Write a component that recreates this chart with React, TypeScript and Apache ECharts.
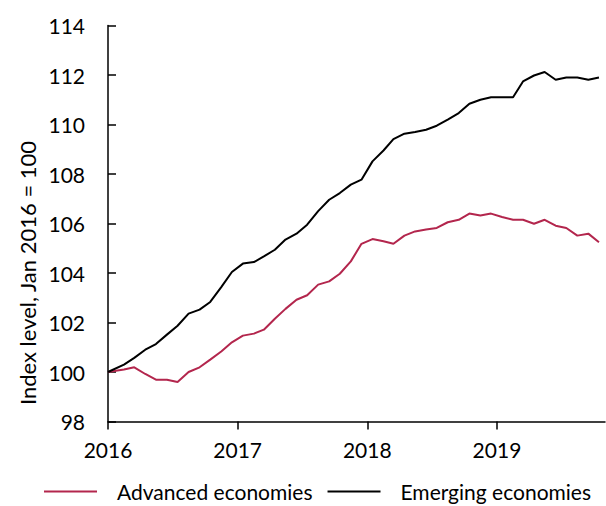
import React, { useEffect, useRef } from "react";
import * as echarts from "echarts";

// Monthly observations, Jan 2016 – Oct 2019
const months: string[] = [];
for (let y = 2016; y <= 2019; y++) {
  for (let m = 1; m <= 12; m++) {
    if (y === 2019 && m > 10) break;
    months.push(`${y}-${String(m).padStart(2, "0")}`);
  }
}
// Axis boundaries: month starts Jan 2016 – Nov 2019
const axisMonths: string[] = [];
for (let y = 2016; y <= 2019; y++) {
  for (let m = 1; m <= 12; m++) {
    if (y === 2019 && m > 11) break;
    axisMonths.push(`${y}-${String(m).padStart(2, "0")}`);
  }
}
const yearLabels = ["2016", "2017", "2018", "2019"];

const advanced = [
  100.0, 100.1, 100.19, 99.92, 99.69, 99.69, 99.6, 100.0, 100.19, 100.5, 100.83, 101.2,
  101.47, 101.55, 101.71, 102.15, 102.55, 102.92, 103.1, 103.53, 103.66, 103.97, 104.47, 105.18,
  105.37, 105.28, 105.18, 105.51, 105.68, 105.76, 105.82, 106.05, 106.15, 106.4, 106.32, 106.4,
  106.26, 106.15, 106.15, 105.99, 106.15, 105.91, 105.82, 105.51, 105.59, 105.24,
];
const emerging = [
  100.0, 100.3, 100.57, 100.9, 101.13, 101.51, 101.87, 102.36, 102.52, 102.83, 103.43, 104.04,
  104.38, 104.44, 104.67, 104.94, 105.35, 105.59, 105.95, 106.5, 106.96, 107.23, 107.57, 107.77,
  108.51, 108.95, 109.41, 109.63, 109.7, 109.79, 109.95, 110.2, 110.46, 110.84, 111.0, 111.1,
  111.1, 111.1, 111.74, 111.98, 112.12, 111.81, 111.9, 111.9, 111.81, 111.9,
];

const RED = "#b3264d";
const FONT = "Lato, 'Open Sans', sans-serif";

// first observation is the index base (start of Jan 2016), the rest are mid-month
const pointDate = (m: string, i: number) => (i === 0 ? `${m}-01` : `${m}-15`);

export default function App() {
  const ref = useRef<HTMLDivElement>(null);
  useEffect(() => {
    if (!ref.current) return;
    const chart = echarts.init(ref.current, null, { renderer: "svg" });
    chart.setOption({
      animation: false,
      grid: {
        left: 108,
        right: 1,
        top: 25.5,
        bottom: 84.5,
        outerBoundsMode: "none",
      },
      legend: {
        left: 39,
        top: 476,
        icon: "rect",
        itemWidth: 53,
        itemHeight: 2,
        itemGap: 15,
        textStyle: {
          fontFamily: FONT,
          fontSize: 21,
          color: "#000",
          padding: [0, 0, 0, 15],
        },
        data: ["Advanced economies", "Emerging economies"],
      },
      xAxis: [
        {
          type: "time",
          min: "2016-01-01",
          max: "2019-11-01",
          show: false,
          position: "top",
        },
        {
          type: "category",
          position: "bottom",
          data: axisMonths,
          boundaryGap: false,
          axisLine: { show: true, onZero: false, lineStyle: { color: "#000", width: 1.5 } },
          axisTick: {
            show: true,
            length: 8,
            interval: (i: number) => i % 12 === 0,
            lineStyle: { color: "#000", width: 1.5 },
          },
          axisLabel: {
            interval: (i: number) => i % 12 === 0,
            formatter: (v: string) => {
              const y = v.slice(0, 4);
              return yearLabels.includes(y) ? y : "";
            },
            margin: 17,
            fontFamily: FONT,
            fontSize: 21,
            color: "#000",
          },
          splitLine: { show: false },
        },
      ],
      yAxis: {
        type: "value",
        min: 98,
        max: 114,
        interval: 2,
        axisLine: { show: true, onZero: false, lineStyle: { color: "#000", width: 1.5 } },
        axisTick: { show: true, inside: true, length: 8, lineStyle: { color: "#000", width: 1.5 } },
        axisLabel: { margin: 23, fontFamily: FONT, fontSize: 21, color: "#000" },
        splitLine: { show: false },
      },
      graphic: [
        {
          type: "text",
          x: 27,
          y: 273,
          rotation: Math.PI / 2,
          style: {
            text: "Index level, Jan 2016 = 100",
            fontFamily: FONT,
            fontSize: 22,
            fill: "#000",
            textAlign: "center",
            textVerticalAlign: "middle",
          },
        },
      ],
      series: [
        {
          name: "Advanced economies",
          type: "line",
          xAxisIndex: 0,
          data: months.map((m, i) => [pointDate(m, i), advanced[i]]),
          symbol: "none",
          color: RED,
          lineStyle: { color: RED, width: 2 },
        },
        {
          name: "Emerging economies",
          type: "line",
          xAxisIndex: 0,
          data: months.map((m, i) => [pointDate(m, i), emerging[i]]),
          symbol: "none",
          color: "#000",
          lineStyle: { color: "#000", width: 2 },
        },
      ],
    });
    return () => chart.dispose();
  }, []);
  return <div ref={ref} style={{ width: 606, height: 506, position: "absolute", left: 0, top: 0 }} />;
}
